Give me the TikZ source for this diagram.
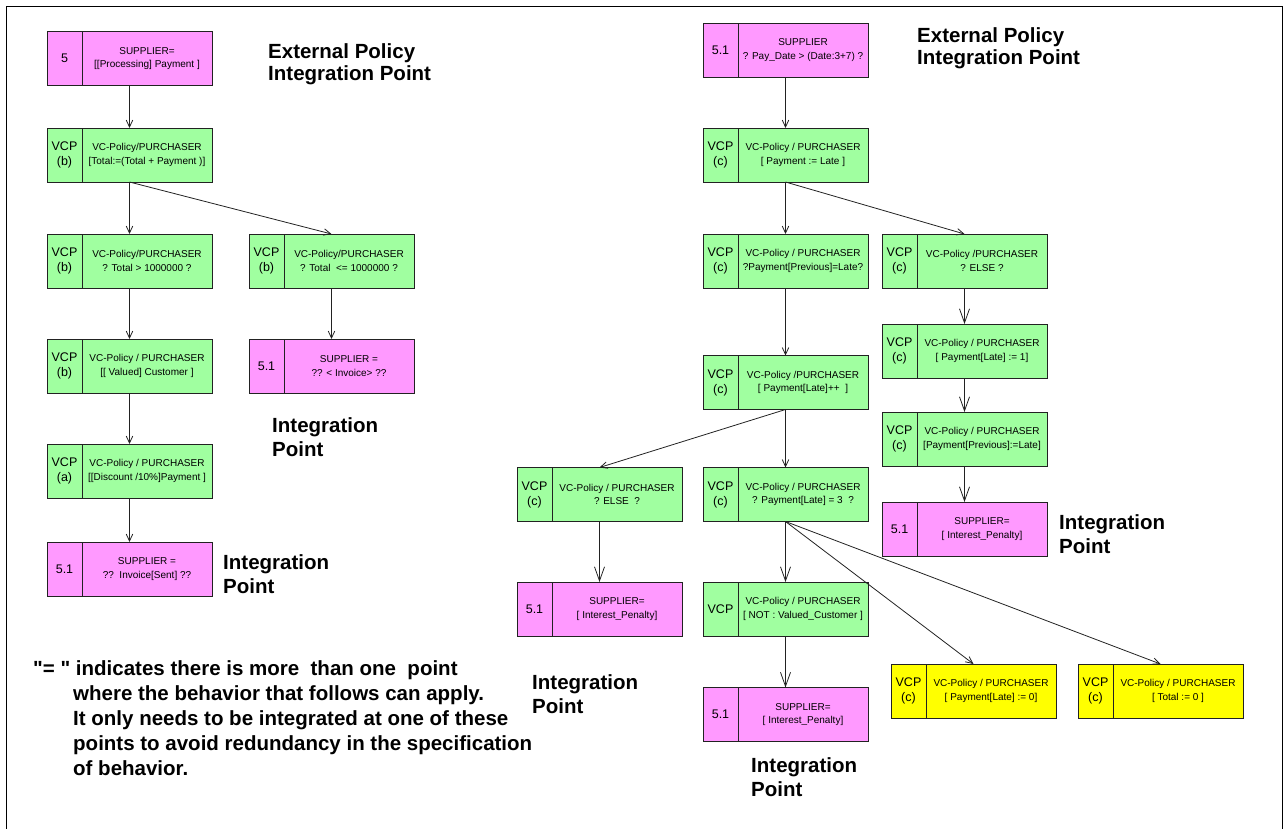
\documentclass[tikz,border=0pt]{standalone}
\usepackage{fontspec}
\setmainfont{Liberation Sans}
\usetikzlibrary{arrows.meta}
\definecolor{pinkc}{HTML}{FF99FF}
\definecolor{greenc}{HTML}{A0FFA0}
\definecolor{yellowc}{HTML}{FFFF00}
\definecolor{edgec}{HTML}{222222}
\newcommand\mkbox[6]{%
  \node[boxshape, fill=#4] (#1) at (#2,-#3) {};
  \node[lefttxt] (#1-l) at ([xshift=17.5pt]#1.west) {#5};
  \node[righttxt] (#1-r) at ([xshift=17.5pt]#1.center) {#6};
  \draw[divider] ([xshift=35pt]#1.north west) -- ([xshift=35pt]#1.south west);
}
\tikzset{
  boxshape/.style={draw=edgec, line width=1pt, minimum width=165pt, minimum height=54pt, inner sep=0pt, outer sep=0pt},
  lefttxt/.style={font=\fontsize{12.5}{15}\selectfont, align=center, inner sep=0pt},
  righttxt/.style={font=\fontsize{10}{13.5}\selectfont, align=center, inner sep=0pt},
  divider/.style={draw=edgec, line width=1pt},
  arr/.style={draw=edgec, line width=0.8pt, -{Straight Barb[length=7pt,width=6.5pt]}},
  arrl/.style={draw=edgec, line width=0.8pt, -{Straight Barb[length=14pt,width=10pt]}},
  lbl/.style={font=\fontsize{20.5}{24}\selectfont\bfseries, align=left, anchor=base west, inner sep=0pt},
  frame/.style={draw=black, line width=1.6pt}
}
\begin{document}
\begin{tikzpicture}[x=1pt,y=1pt]
\useasboundingbox (0,0) rectangle (1284,-828);
\draw[frame] (6.5,-6.5) rectangle (1282.5,-840);

% ---------- left tree ----------
\mkbox{L1}{129.5}{58.5}{pinkc}{5}{SUPPLIER=\\{}[[Processing] Payment ]}
\mkbox{L2}{129.5}{155}{greenc}{VCP\\(b)}{VC-Policy/PURCHASER\\{}[Total:=(Total + Payment )]}
\mkbox{L3}{129.5}{261}{greenc}{VCP\\(b)}{VC-Policy/PURCHASER\\? Total > 1000000 ?}
\mkbox{LR3}{331.5}{261}{greenc}{VCP\\(b)}{VC-Policy/PURCHASER\\? Total\ \ <= 1000000 ?}
\mkbox{L4}{129.5}{366}{greenc}{VCP\\(b)}{VC-Policy / PURCHASER\\{}[[ Valued] Customer ]}
\mkbox{LP}{331.5}{366}{pinkc}{5.1}{SUPPLIER =\\?? < Invoice> ??}
\mkbox{L5}{129.5}{471}{greenc}{VCP\\(a)}{VC-Policy / PURCHASER\\{}[[Discount /10\%]Payment ]}
\mkbox{L6}{129.5}{569}{pinkc}{5.1}{SUPPLIER =\\??\ \ Invoice[Sent] ??}

\draw[arr] (L1.south) -- (L2.north);
\draw[arr] (L2.south) -- (L3.north);
\draw[arr] (L2.south) -- (LR3.north);
\draw[arr] (L3.south) -- (L4.north);
\draw[arr] (LR3.south) -- (LP.north);
\draw[arr] (L4.south) -- (L5.north);
\draw[arr] (L5.south) -- (L6.north);

% ---------- right tree ----------
\mkbox{R1}{785.5}{50}{pinkc}{5.1}{SUPPLIER\\? Pay\_Date > (Date:3+7) ?}
\mkbox{R2}{785.5}{155}{greenc}{VCP\\(c)}{VC-Policy / PURCHASER\\{}[ Payment := Late ]}
\mkbox{R3a}{785.5}{261}{greenc}{VCP\\(c)}{VC-Policy / PURCHASER\\?Payment[Previous]=Late?}
\mkbox{R3b}{964.5}{261}{greenc}{VCP\\(c)}{VC-Policy /PURCHASER\\? ELSE ?}
\mkbox{R4b}{964.5}{351}{greenc}{VCP\\(c)}{VC-Policy / PURCHASER\\{}[ Payment[Late] := 1]}
\mkbox{R4a}{785.5}{382.5}{greenc}{VCP\\(c)}{VC-Policy /PURCHASER\\{}[ Payment[Late]++\ \ ]}
\mkbox{R5b}{964.5}{439}{greenc}{VCP\\(c)}{VC-Policy / PURCHASER\\{}[Payment[Previous]:=Late]}
\mkbox{R6b}{964.5}{529}{pinkc}{5.1}{SUPPLIER=\\{}[ Interest\_Penalty]}
\mkbox{E1}{599.5}{494.5}{greenc}{VCP\\(c)}{VC-Policy / PURCHASER\\? ELSE\ \ ?}
\mkbox{P3}{785.5}{494.5}{greenc}{VCP\\(c)}{VC-Policy / PURCHASER\\? Payment[Late] = 3\ \ ?}
\mkbox{E2}{599.5}{609}{pinkc}{5.1}{SUPPLIER=\\{}[ Interest\_Penalty]}
\mkbox{N1}{785.5}{609}{greenc}{VCP}{VC-Policy / PURCHASER\\{}[ NOT : Valued\_Customer ]}
\mkbox{N2}{785.5}{714.5}{pinkc}{5.1}{SUPPLIER=\\{}[ Interest\_Penalty]}
\mkbox{Y1}{973.5}{691}{yellowc}{VCP\\(c)}{VC-Policy / PURCHASER\\{}[ Payment[Late] := 0]}
\mkbox{Y2}{1160.5}{691}{yellowc}{VCP\\(c)}{VC-Policy / PURCHASER\\{}[ Total := 0 ]}

\draw[arr] (R1.south) -- (R2.north);
\draw[arr] (R2.south) -- (R3a.north);
\draw[arr] (R2.south) -- (R3b.north);
\draw[arr] (R3a.south) -- (R4a.north);
\draw[arrl] (R3b.south) -- (R4b.north);
\draw[arrl] (R4b.south) -- (R5b.north);
\draw[arrl] (R5b.south) -- (R6b.north);
\draw[arr] (R4a.south) -- (E1.north);
\draw[arr] (R4a.south) -- (P3.north);
\draw[arrl] (E1.south) -- (E2.north);
\draw[arrl] (P3.south) -- (N1.north);
\draw[arr] (P3.south) -- (Y1.north);
\draw[arr] (P3.south) -- (Y2.north);
\draw[arrl] (N1.south) -- (N2.north);

% ---------- labels (anchor = baseline of last line) ----------
\node[lbl, font=\fontsize{20.5}{22.5}\selectfont\bfseries] (ep1) at (268,-80.5) {External Policy\\Integration Point};
\node[lbl, font=\fontsize{20.5}{22.5}\selectfont\bfseries] (ep2) at (917,-64.5) {External Policy\\Integration Point};
\node[lbl] (ip1) at (272,-456) {Integration\\Point};
\node[lbl] (ip2) at (223,-593) {Integration\\Point};
\node[lbl] (ip3) at (1059,-553) {Integration\\Point};
\node[lbl] (ip4) at (532,-713) {Integration\\Point};
\node[lbl] (ip5) at (751,-796) {Integration\\Point};
\node[lbl, font=\fontsize{20.5}{25}\selectfont\bfseries] (note) at (33,-775) {\textquotedbl= \textquotedbl{} indicates there is more\ \ than one\ \ point\\
\hspace*{40pt}where the behavior that follows can apply.\\
\hspace*{40pt}It only needs to be integrated at one of these\\
\hspace*{40pt}points to avoid redundancy in the specification\\
\hspace*{40pt}of behavior.};
\end{tikzpicture}
\end{document}
